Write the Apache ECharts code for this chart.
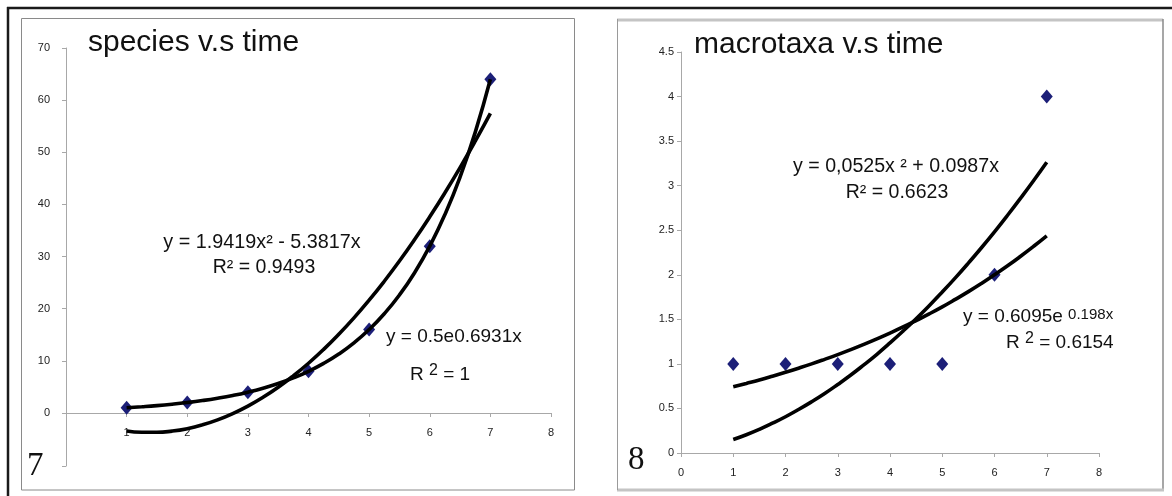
<!DOCTYPE html>
<html><head><meta charset="utf-8">
<script src="https://cdn.jsdelivr.net/npm/echarts@6/dist/echarts.min.js"></script>
<style>html,body{margin:0;padding:0;background:#fff}#c{width:1172px;height:496px}</style>
</head><body><div id="c"></div>
<script>
// ---- data ----
const times = [1, 2, 3, 4, 5, 6, 7];
const species = [1, 2, 4, 8, 16, 32, 64];
const macrotaxa = [1, 1, 1, 1, 1, 2, 4];
// trendline curves (x positions and y values)
const trendX = [1, 1.25, 1.5, 1.75, 2, 2.25, 2.5, 2.75, 3, 3.25, 3.5, 3.75, 4, 4.25, 4.5, 4.75, 5, 5.25, 5.5, 5.75, 6, 6.25, 6.5, 6.75, 7];
const speciesPolyFit = [-3.44, -3.69, -3.70, -3.47, -3.00, -2.28, -1.32, -0.11, 1.33, 3.02, 4.95, 7.13, 9.54, 12.20, 15.11, 18.25, 21.64, 25.27, 29.14, 33.26, 37.62, 42.22, 47.06, 52.15, 57.48];
const speciesExpFit = [1.00, 1.19, 1.41, 1.68, 2.00, 2.38, 2.83, 3.36, 4.00, 4.76, 5.66, 6.73, 8.00, 9.51, 11.31, 13.45, 16.00, 19.03, 22.63, 26.91, 32.00, 38.05, 45.25, 53.82, 64.00];
const macroPolyFit = [0.151, 0.205, 0.266, 0.334, 0.407, 0.488, 0.575, 0.668, 0.769, 0.875, 0.989, 1.108, 1.235, 1.368, 1.507, 1.653, 1.806, 1.965, 2.131, 2.303, 2.482, 2.668, 2.860, 3.058, 3.263];
const macroExpFit = [0.743, 0.781, 0.820, 0.862, 0.906, 0.952, 1.000, 1.051, 1.104, 1.160, 1.219, 1.281, 1.346, 1.414, 1.486, 1.561, 1.640, 1.724, 1.811, 1.903, 2.000, 2.101, 2.208, 2.320, 2.437];
const titles = ['species v.s time', 'macrotaxa v.s time'];
const panelNumbers = ['7', '8'];

const zip = (xs, ys) => xs.map((x, i) => [x, ys[i]]);
const SANS = '"Liberation Sans", Arial, sans-serif';
const SERIF = '"Liberation Serif", "Times New Roman", serif';

const chart = echarts.init(document.getElementById('c'), null, {renderer: 'canvas'});

const AX = '#a8a8a8';
const labelBase = {color: '#222', fontSize: 11, fontFamily: SANS};
function axis(extra) {
  return Object.assign({
    type: 'value',
    splitLine: {show: false},
    axisLine: {show: true, onZero: false, lineStyle: {color: AX, width: 1}},
    axisTick: {show: true, length: 4, lineStyle: {color: AX}},
    axisLabel: Object.assign({}, labelBase)
  }, extra);
}

function txt(x, y, text, size, align, rich, family) {
  const st = {x: x, y: y, text: text, fill: '#111', font: size + 'px ' + (family || SANS),
    fontSize: size, fontFamily: family || SANS,
    textAlign: align || 'left', textVerticalAlign: 'middle'};
  if (rich) st.rich = rich;
  return {type: 'text', z: 50, style: st};
}
const supRich = (base, sup, raise) => ({
  b: {fontSize: base, lineHeight: 26, fontFamily: SANS, color: '#111', verticalAlign: 'middle'},
  s: {fontSize: sup, fontFamily: SANS, color: '#111', verticalAlign: 'middle', padding: [0, 0, raise, 0]}
});

const lineStyleTrend = {color: '#000', width: 3.6};
const markerStyle = {color: '#1c1f78', opacity: 1};

chart.setOption({
  animation: false,
  backgroundColor: '#fff',
  grid: [
    {left: 66, top: 48, width: 485, height: 365},   // species, y >= 0 part
    {left: 681, top: 52, width: 418, height: 401},  // macrotaxa
    {left: 66, top: 413, width: 485, height: 53}    // species y-axis extension below zero
  ],
  xAxis: [
    axis({gridIndex: 0, min: 0, max: 8, interval: 1,
      axisLabel: Object.assign({}, labelBase, {margin: 14, formatter: v => v === 0 ? '' : String(v)})}),
    axis({gridIndex: 1, min: 0, max: 8, interval: 1,
      axisLabel: Object.assign({}, labelBase, {margin: 14})}),
    axis({gridIndex: 2, min: 0, max: 8, interval: 1, show: false})
  ],
  yAxis: [
    axis({gridIndex: 0, min: 0, max: 70, interval: 10,
      axisLabel: Object.assign({}, labelBase, {margin: 16})}),
    axis({gridIndex: 1, min: 0, max: 4.5, interval: 0.5,
      axisLabel: Object.assign({}, labelBase, {margin: 7})}),
    axis({gridIndex: 2, min: -10, max: 0, interval: 10,
      axisLabel: {show: false}})
  ],
  series: [
    {type: 'scatter', xAxisIndex: 0, yAxisIndex: 0, data: zip(times, species), symbol: 'diamond', symbolSize: [12, 14], itemStyle: markerStyle, z: 2},
    {type: 'line', xAxisIndex: 0, yAxisIndex: 0, data: zip(trendX, speciesPolyFit), smooth: true, clip: false, showSymbol: false, symbol: 'none', lineStyle: lineStyleTrend, z: 3},
    {type: 'line', xAxisIndex: 0, yAxisIndex: 0, data: zip(trendX, speciesExpFit), smooth: true, clip: false, showSymbol: false, symbol: 'none', lineStyle: lineStyleTrend, z: 3},
    {type: 'scatter', xAxisIndex: 1, yAxisIndex: 1, data: zip(times, macrotaxa), symbol: 'diamond', symbolSize: [12, 14], itemStyle: markerStyle, z: 2},
    {type: 'line', xAxisIndex: 1, yAxisIndex: 1, data: zip(trendX, macroPolyFit), smooth: true, showSymbol: false, symbol: 'none', lineStyle: lineStyleTrend, z: 3},
    {type: 'line', xAxisIndex: 1, yAxisIndex: 1, data: zip(trendX, macroExpFit), smooth: true, showSymbol: false, symbol: 'none', lineStyle: lineStyleTrend, z: 3}
  ],
  graphic: [
    // outer black frame (top and left)
    {type: 'line', z: 40, shape: {x1: 7, y1: 8, x2: 1172, y2: 8}, style: {stroke: '#1a1a1a', lineWidth: 2.5}},
    {type: 'line', z: 40, shape: {x1: 8, y1: 7, x2: 8, y2: 496}, style: {stroke: '#1a1a1a', lineWidth: 2.5}},
    // left panel box
    {type: 'rect', z: 1, shape: {x: 21.5, y: 18.5, width: 553, height: 471.5}, style: {fill: 'none', stroke: '#8a8a8a', lineWidth: 1}},
    // right panel box
    {type: 'line', z: 1, shape: {x1: 617, y1: 20, x2: 1163, y2: 20}, style: {stroke: '#c4c4c4', lineWidth: 3}},
    {type: 'line', z: 1, shape: {x1: 1163, y1: 19, x2: 1163, y2: 490}, style: {stroke: '#8a8a8a', lineWidth: 1.5}},
    {type: 'line', z: 1, shape: {x1: 617, y1: 490, x2: 1164, y2: 490}, style: {stroke: '#c4c4c4', lineWidth: 3}},
    {type: 'line', z: 1, shape: {x1: 617.5, y1: 19, x2: 617.5, y2: 490}, style: {stroke: '#9a9a9a', lineWidth: 1}},
    // titles
    txt(88, 43, titles[0], 30),
    txt(694, 45, titles[1], 30),
    // left annotations
    txt(262, 243, 'y = 1.9419x² - 5.3817x', 19.8, 'center'),
    txt(264, 268, 'R² = 0.9493', 19.5, 'center'),
    txt(386, 337, 'y = 0.5e0.6931x', 19, 'left'),
    txt(410, 375, '{b|R }{s|2}{b| = 1}', 19, 'left', supRich(19, 16, 9)),
    // right annotations
    txt(896, 167, 'y = 0,0525x ² + 0.0987x', 19.6, 'center'),
    txt(897, 193, 'R² = 0.6623', 19.5, 'center'),
    txt(963, 317, '{b|y = 0.6095e }{s|0.198x}', 19, 'left', supRich(19, 15, 4)),
    txt(1006, 343, '{b|R }{s|2}{b| = 0.6154}', 19, 'left', supRich(19, 16, 9)),
    // panel numbers
    txt(27, 466, panelNumbers[0], 33, 'left', null, SERIF),
    txt(628, 460, panelNumbers[1], 33, 'left', null, SERIF)
  ]
});
</script></body></html>
